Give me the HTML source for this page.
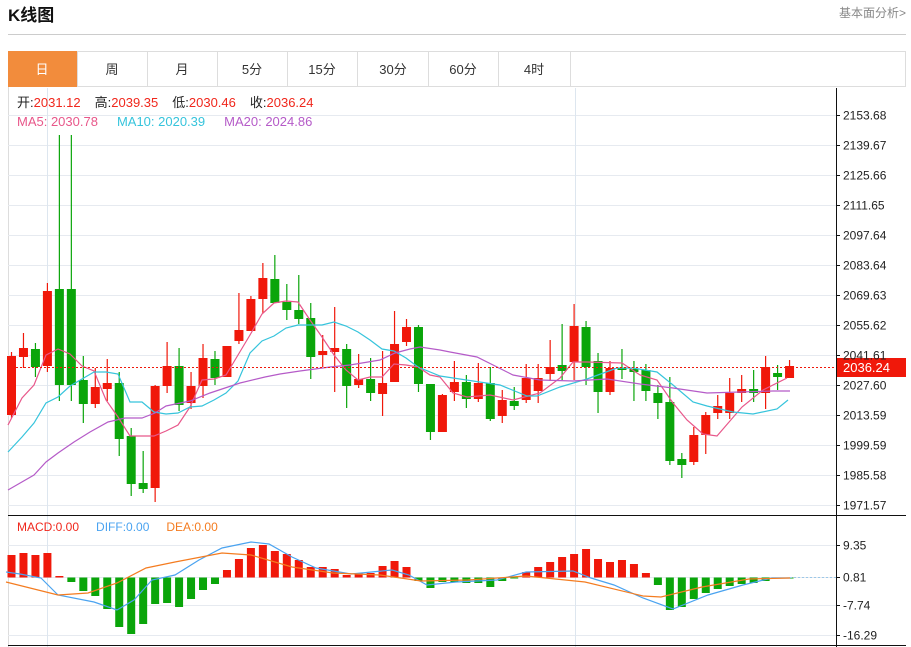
<!DOCTYPE html>
<html><head><meta charset="utf-8"><style>
body{margin:0;background:#fff;width:911px;height:647px;overflow:hidden;font-family:"Liberation Sans","Noto Sans CJK SC",sans-serif}
svg{position:absolute;left:0;top:0}
</style></head><body>
<svg id="s" width="911" height="647" xmlns="http://www.w3.org/2000/svg" font-family="Liberation Sans, Noto Sans CJK SC, sans-serif">
<text x="8" y="21" font-size="17" font-weight="bold" fill="#111">K线图</text>
<text x="906" y="17" font-size="12" fill="#888" text-anchor="end">基本面分析&gt;</text>
<line x1="8" y1="34.5" x2="906" y2="34.5" stroke="#ccc"/>
<rect x="8.5" y="51.5" width="897" height="35" fill="none" stroke="#ddd"/>
<rect x="8" y="51" width="69" height="36" fill="#f28c3c"/>
<g stroke="#ddd"><line x1="77.5" y1="51" x2="77.5" y2="87"/><line x1="147.5" y1="51" x2="147.5" y2="87"/><line x1="217.5" y1="51" x2="217.5" y2="87"/><line x1="287.5" y1="51" x2="287.5" y2="87"/><line x1="357.5" y1="51" x2="357.5" y2="87"/><line x1="428.5" y1="51" x2="428.5" y2="87"/><line x1="498.5" y1="51" x2="498.5" y2="87"/><line x1="570.5" y1="51" x2="570.5" y2="87"/><line x1="8.5" y1="87" x2="8.5" y2="647"/></g>
<g font-size="13" text-anchor="middle" fill="#333"><text x="42" y="74" fill="#fff">日</text><text x="112" y="74">周</text><text x="182" y="74">月</text><text x="252" y="74">5分</text><text x="322" y="74">15分</text><text x="393" y="74">30分</text><text x="463" y="74">60分</text><text x="534" y="74">4时</text></g>
<g id="grid" stroke="#e6eaf0"></g>
<line x1="47.5" y1="88" x2="47.5" y2="647" stroke="#dde6ef"/>
<line x1="575.5" y1="88" x2="575.5" y2="647" stroke="#dde6ef"/>
<g id="c"></g>
<text y="107" font-size="13"><tspan x="17" fill="#222">开:</tspan><tspan fill="#f0271c">2031.12</tspan><tspan fill="#222" dx="14">高:</tspan><tspan fill="#f0271c">2039.35</tspan><tspan fill="#222" dx="14">低:</tspan><tspan fill="#f0271c">2030.46</tspan><tspan fill="#222" dx="14">收:</tspan><tspan fill="#f0271c">2036.24</tspan></text>
<text y="126" font-size="13"><tspan x="17" fill="#e8578a">MA5: 2030.78</tspan><tspan dx="19" fill="#36c4dc">MA10: 2020.39</tspan><tspan dx="19" fill="#b55bc8">MA20: 2024.86</tspan></text>
<text y="531" font-size="12"><tspan x="17" fill="#f0271c">MACD:0.00</tspan><tspan dx="17" fill="#4aa3f0">DIFF:0.00</tspan><tspan dx="17" fill="#f47c20">DEA:0.00</tspan></text>
<line x1="836.5" y1="88" x2="836.5" y2="647" stroke="#111"/>
<line x1="8" y1="515.5" x2="906" y2="515.5" stroke="#111"/>
<line x1="8" y1="645.5" x2="906" y2="645.5" stroke="#111"/>
<g id="ax" font-size="12" fill="#222"></g>
</svg>
<script>
var N="http://www.w3.org/2000/svg",s=document.getElementById('s');
function el(p,t,a){var e=document.createElementNS(N,t);for(var k in a)e.setAttribute(k,a[k]);p.appendChild(e);return e}
var g=document.getElementById('grid'),ax=document.getElementById('ax'),c=document.getElementById('c');
var pl=["2153.68","2139.67","2125.66","2111.65","2097.64","2083.64","2069.63","2055.62","2041.61","2027.60","2013.59","1999.59","1985.58","1971.57"];
for(var i=0;i<14;i++){var y=115+i*30.0;el(g,'line',{x1:8,x2:836,y1:y+.5,y2:y+.5});el(ax,'line',{x1:836,x2:840,y1:y+.5,y2:y+.5,stroke:'#111'});el(ax,'text',{x:843,y:y+4.5}).textContent=pl[i];}
var ml=[[545,"9.35"],[577,"0.81"],[605,"-7.74"],[635,"-16.29"]];
ml.forEach(function(m){el(g,'line',{x1:8,x2:836,y1:m[0]+.5,y2:m[0]+.5});el(ax,'line',{x1:836,x2:840,y1:m[0]+.5,y2:m[0]+.5,stroke:'#111'});el(ax,'text',{x:843,y:m[0]+4.5}).textContent=m[1];});
var K=[
'r356415352418','r348357333368','g349367343377','r291366283372','g289385135401','g289385135401','g380404356423','r387404368408','r383389359401','g383439372456','g436484428496','g483489451493','r386488385502','r366386342393','g366405348411','r386403372409','r358386344398','g359378351385','r346377346377','r330341293344','r299331296331','r278299263313','g279303255303','g302310284320','g310319275324','g318357303379','r351355335367','r348352307392','g349386344408','r379385354388','g379393358401','r383394351416','r344382311382','r327342319346','g327384325392','g384432384440','r395432394432','r382392361401','g382399375408','r383399363402','g383419367421','r400416390423','g401406387410','r378400364403','r378391364403','r367374340381','g365371324380','r326362304380','g327367321385','g361392353413','r368392361395','g368370349379','g369372361401','g370391364401','g393403385419','g402461377465','g459465453478','r435462427465','r415435412454','r406413395419','r393413378419','r389393375402','g389393370402','r367393356409','g373377365390','r366378360378'];
var X=function(i){return 11.5+11.97*i};
K.forEach(function(k,i){var col=k[0]=='r'?'#f0180a':'#0aa50a';var v=[+k.substr(1,3),+k.substr(4,3),+k.substr(7,3),+k.substr(10,3)];var x=X(i);
el(c,'line',{x1:x,x2:x,y1:v[2],y2:v[3],stroke:col,'stroke-width':1.2});el(c,'rect',{x:x-4.5,y:v[0],width:9,height:Math.max(1.5,v[1]-v[0]),fill:col});});
function line(pts,col,w){el(c,'polyline',{points:pts,fill:'none',stroke:col,'stroke-width':w||1.2});}
line("8,425 22,398 34,385 46,355 58,349 70,354 82,366 94,371 106,400 118,417 130,436 142,436 154,436 166,431 178,425 190,407 202,380 214,379 226,375 238,355 250,335 262,314 274,303 286,301 298,302 310,320 322,337 334,355 346,370 358,380 370,377 382,377 394,364 406,365 418,367 430,375 440,377 453,393 467,397 490,395 513,400 540,393 560,378 573,362 587,362 622,363 640,375 657,380 673,403 687,420 703,434 717,436 742,407 763,390 787,378",'#e8578a');
line("8,452 22,437 34,423 46,403 58,397 70,386 82,379 94,372 106,372 118,374 130,402 142,402 154,412 166,414 178,413 190,407 202,406 214,400 226,393 238,381 250,353 262,341 274,336 286,328 298,325 310,325 322,325 334,322 346,326 358,332 370,340 382,349 394,351 406,358 418,367 440,376 473,381 500,385 527,396 537,396 560,387 587,379 617,368 633,368 657,372 673,385 693,402 707,406 733,412 753,414 777,409 788,400",'#36c4dc');
line("8,490 34,475 46,462 58,453 74,442 90,432 108,422 125,418 142,418 155,413 166,406 190,401 210,393 240,383 265,377 280,374 300,371 330,367 350,365 380,360 395,353 410,349 420,347 440,350 450,352 477,357 513,375 540,380 573,381 607,379 640,384 673,388 707,393 740,392 773,391 790,391",'#b55bc8');
el(c,'line',{x1:8,x2:836,y1:367.5,y2:367.5,stroke:'#f0180a','stroke-dasharray':'2,2'});
el(c,'rect',{x:837,y:358,width:69,height:19,fill:'#f0180a'});
el(c,'text',{x:843,y:372,fill:'#fff','font-size':13}).textContent='2036.24';
var M=[555,553,555,553,576,582,591,596,609,627,634,624,604,603,607,599,590,584,570,559,548,545,551,554,560,567,567,569,575,573,573,566,561,567,581,588,582,582,583,583,587,581,578,572,567,562,557,554,549,559,562,560,564,573,585,610,607,599,593,589,586,584,583,581,578,578];
M.forEach(function(y,i){var x=X(i),z=577.5;var col=y<z?'#f0180a':'#0aa50a';var t=Math.min(y,z),h=Math.max(1,Math.abs(y-z));el(c,'rect',{x:x-4,y:t,width:8,height:h,fill:col});});
el(c,'line',{x1:790,x2:836,y1:577.5,y2:577.5,stroke:'#9cc8e8','stroke-dasharray':'2,2'});
line("6,572 20,574 41,578 58,595 94,602 117,610 134,600 152,580 175,575 199,560 222,548 251,542 269,544 292,557 316,568 351,574 392,570 409,575 427,585 456,582 497,580 526,572 573,571 591,578 614,585 643,598 673,609 708,595 743,585 772,578 790,578",'#4aa3f0');
line("6,582 58,595 88,593 117,583 146,568 175,562 222,553 251,555 292,567 333,573 380,575 421,581 468,580 526,576 585,582 643,596 661,597 702,587 749,579 790,578",'#f47c20');
</script>
</body></html>
